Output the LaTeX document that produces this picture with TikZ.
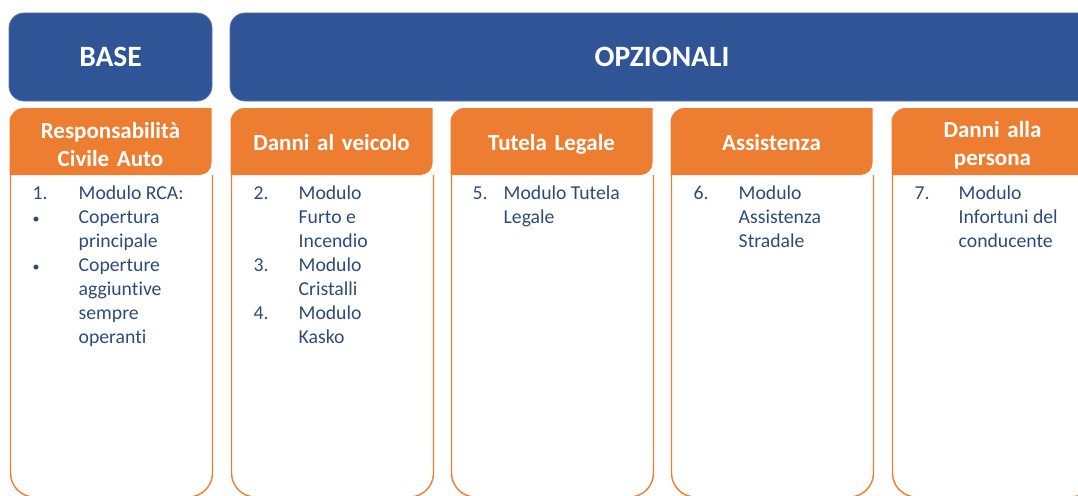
\documentclass[tikz,border=0pt]{standalone}
\usepackage{fontspec}
\setmainfont{Carlito}[Ligatures=NoCommon]
\usetikzlibrary{positioning}

\definecolor{boxblue}{RGB}{47,85,151}
\definecolor{edgeblue}{RGB}{90,120,170}
\definecolor{headorange}{RGB}{237,125,49}
\definecolor{textblue}{RGB}{44,75,122}

\newcommand{\smallbullet}{{\fontsize{14}{24}\selectfont\textbullet}}

\tikzset{
  bluebox/.style={fill=boxblue,draw=edgeblue,line width=0.8pt,rounded corners=15pt,
    minimum height=88pt,inner sep=0pt,outer sep=0pt,text=white,
    font=\fontsize{29.5}{36}\selectfont\bfseries},
  tabbox/.style={minimum width=202pt,minimum height=67pt,inner sep=0pt,outer sep=0pt},
  tabtext/.style={text width=196pt,align=center,inner sep=0pt,text=white,
    font=\fontsize{23}{28}\selectfont\bfseries},
  bodytext/.style={anchor=base west,inner sep=0pt,text=textblue,
    font=\fontsize{19.7}{24}\selectfont},
  bodyline/.style={draw=headorange,line width=1.4pt}
}

\begin{document}
\begin{tikzpicture}[x=1pt,y=1pt]
  \useasboundingbox (0,0) rectangle (1078,-495);
  \clip (0,0) rectangle (1078,-495);

  \node[bluebox,minimum width=203pt] (base) at (110.5,-57) {BASE};
  \node[bluebox,minimum width=864pt,right=18pt of base] (opz) {OPZIONALI};

  \node[tabbox,below=7pt of base] (rca) {};
  \node[tabbox,right=19pt of rca] (veicolo) {};
  \node[tabbox,right=18pt of veicolo] (tutela) {};
  \node[tabbox,right=18pt of tutela] (assist) {};
  \node[tabbox,right=19pt of assist] (persona) {};

  % orange tabs and body outlines
  \foreach \c in {rca,veicolo,tutela,assist,persona} {
    \fill[headorange] (\c.south west) -- ([yshift=-14pt]\c.north west)
      arc[start angle=180,end angle=90,radius=14pt] -- (\c.north east)
      -- ([yshift=12pt]\c.south east) arc[start angle=0,end angle=-90,radius=12pt] -- cycle;
    \draw[bodyline,rounded corners=24pt] ([xshift=1pt]\c.south west) -- ++(0,-322)
      -| ([xshift=1pt]\c.south east);
  }

  \node[tabtext] (rcatitle) at ([yshift=-3.5pt]rca.center) {Responsabilità\\Civile Auto};
  \node[tabtext] (veicolotitle) at ([yshift=-1.5pt]veicolo.center) {Danni al veicolo};
  \node[tabtext] (tutelatitle) at ([yshift=-3pt]tutela.center) {Tutela Legale};
  \node[tabtext] (assisttitle) at ([yshift=-1.5pt]assist.center) {Assistenza};
  \node[tabtext] (personatitle) at ([yshift=-3.5pt]persona.center) {Danni alla\\persona};

  \node[bodytext] (txtrca) at ([xshift=23pt,yshift=-24pt]rca.south west) {%
    \begin{tabular}[t]{@{}p{46pt}@{}l@{}}
      1. & Modulo RCA:\\
      \smallbullet & Copertura\\
                   & principale\\
      \smallbullet & Coperture\\
                   & aggiuntive\\
                   & sempre\\
                   & operanti
    \end{tabular}};
  \node[bodytext] (txtveicolo) at ([xshift=23pt,yshift=-24pt]veicolo.south west) {%
    \begin{tabular}[t]{@{}p{45pt}@{}l@{}}
      2. & Modulo\\
         & Furto e\\
         & Incendio\\
      3. & Modulo\\
         & Cristalli\\
      4. & Modulo\\
         & Kasko
    \end{tabular}};
  \node[bodytext] (txttutela) at ([xshift=22pt,yshift=-24pt]tutela.south west) {%
    \begin{tabular}[t]{@{}p{31pt}@{}l@{}}
      5. & Modulo Tutela\\
         & Legale
    \end{tabular}};
  \node[bodytext] (txtassist) at ([xshift=23pt,yshift=-24pt]assist.south west) {%
    \begin{tabular}[t]{@{}p{45pt}@{}l@{}}
      6. & Modulo\\
         & Assistenza\\
         & Stradale
    \end{tabular}};
  \node[bodytext] (txtpersona) at ([xshift=23pt,yshift=-24pt]persona.south west) {%
    \begin{tabular}[t]{@{}p{44pt}@{}l@{}}
      7. & Modulo\\
         & Infortuni del\\
         & conducente
    \end{tabular}};
\end{tikzpicture}
\end{document}
